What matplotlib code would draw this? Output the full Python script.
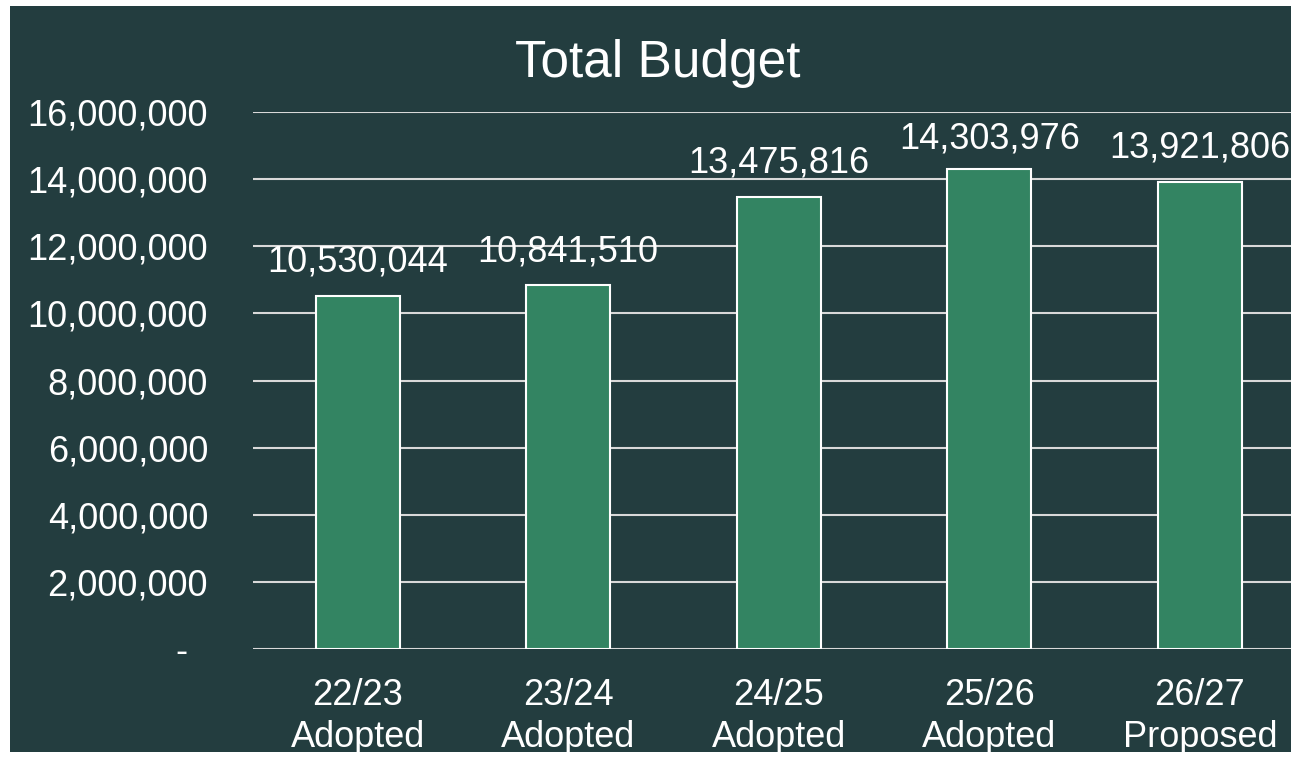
import matplotlib
matplotlib.use("Agg")
import matplotlib.pyplot as plt
import matplotlib.patches as patches
from matplotlib.ticker import FuncFormatter

# data
categories = ["22/23\nAdopted", "23/24\nAdopted", "24/25\nAdopted", "25/26\nAdopted", "26/27\nProposed"]
budget = [10530044, 10841510, 13475816, 14303976, 13921806]
y_ticks = [0, 2000000, 4000000, 6000000, 8000000, 10000000, 12000000, 14000000, 16000000]

BG = "#233D3F"
BAR = "#338462"
GRID = "#D9D9D9"

plt.rcParams["font.family"] = ["Liberation Sans", "DejaVu Sans"]

fig = plt.figure(figsize=(12.91, 7.58), dpi=100)
fig.patch.set_facecolor("white")
# dark panel, with a thin white margin on top, left and bottom
fig.patches.append(patches.Rectangle(
    (10 / 1291, 6 / 758), 1.0, 746 / 758,
    transform=fig.transFigure, facecolor=BG, edgecolor="none", zorder=-5))

# axes run past the right edge, like the cropped original
ax = fig.add_axes([252.5 / 1291, 109 / 758, 1052.5 / 1291, 537 / 758])
ax.set_facecolor("none")

x = range(len(categories))
ax.bar(x, budget, width=0.4, color=BAR, edgecolor="white", linewidth=1.5, zorder=3)

ax.set_xlim(-0.5, len(categories) - 0.5)
ax.set_ylim(0, 16000000)
ax.set_yticks(y_ticks)
ax.yaxis.set_major_formatter(FuncFormatter(lambda v, p: "-  " if v == 0 else f"{v:,.0f}"))
ax.set_xticks(list(x))
ax.set_xticklabels(categories, linespacing=1.25)
ax.grid(axis="y", color=GRID, linewidth=1.5, zorder=1)
ax.set_axisbelow(True)
for s in ax.spines.values():
    s.set_visible(False)
ax.tick_params(axis="both", length=0, colors="white", labelsize=26)
ax.tick_params(axis="y", pad=32)
ax.tick_params(axis="x", pad=21)

for i, v in enumerate(budget):
    ax.text(i, min(v + 1000000, 15200000), f"{v:,}", ha="center", va="center",
            color="white", fontsize=26, zorder=4, clip_on=False)

fig.text(658 / 1291, 1 - 63 / 758, "Total Budget", ha="center", va="center",
         color="white", fontsize=37)

fig.savefig("out.png", dpi=100, facecolor=fig.get_facecolor())
